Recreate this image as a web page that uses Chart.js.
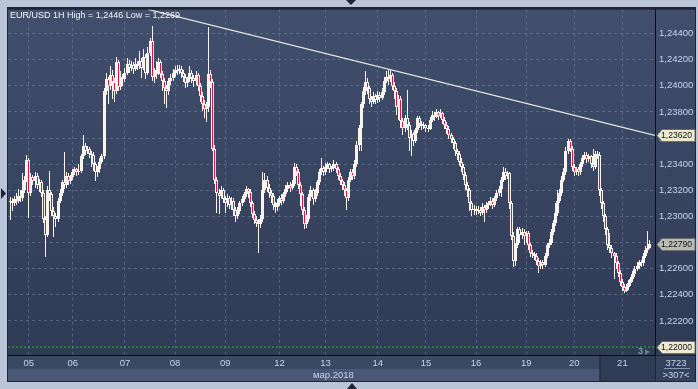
<!DOCTYPE html>
<html>
<head>
<meta charset="utf-8">
<style>
  html, body { margin: 0; padding: 0; background: #bac6d7; }
  body { width: 698px; height: 389px; overflow: hidden; }
  canvas { display: block; }
</style>
<script src="https://cdn.jsdelivr.net/npm/chart.js@4.4.1/dist/chart.umd.min.js"></script>
</head>
<body>
<canvas id="chart" width="698" height="389"></canvas>
<script>
// EUR/USD 1H, 05-21 mar 2018. prices in pips above 1.2200
const dayIdx = [9, 30, 55, 79, 103, 129, 151, 176, 199, 223, 247, 270, 293];
const dayLabels = ['05', '06', '07', '08', '09', '12', '13', '14', '15', '16', '19', '20', '21'];
const priceLevels = [1.222, 1.224, 1.226, 1.228, 1.230, 1.232, 1.234, 1.236, 1.238, 1.240, 1.242, 1.244];

const firstOpen = 111;
const closes = [
  112,110,113,112,116,114,120,128,143,118, 130,127,131,124,126,118,98,86,120,117,
  104,100,98,112,118,126,124,131,127,130, 134,136,134,135,146,154,150,152,148,147,
  140,134,136,142,146,196,205,200,208,203, 196,218,199,207,205,210,217,214,216,213,
  217,215,219,214,222,210,225,234,207,209, 212,218,209,204,198,196,204,206,210,212,
  211,213,210,207,202,205,210,206,204,208, 200,192,186,182,184,209,203,152,128,118,
  116,120,113,110,114,109,112,105,100,104, 110,113,117,121,119,110,102,97,95,94,
  98,120,128,122,118,116,109,107,110,114, 112,117,121,124,122,125,138,134,124,117,
  105,94,98,115,120,113,118,126,134,137, 134,138,140,136,137,140,136,131,127,124,
  120,114,128,134,131,140,155,168,186,196, 203,198,190,188,192,189,193,191,195,204,
  207,205,208,200,196,184,190,173,168,175, 170,160,163,158,166,175,171,169,170,168,
  167,174,178,176,180,177,179,174,170,167, 162,159,156,150,148,142,138,132,124,120,
  110,105,106,104,105,103,107,105,109,110, 112,109,114,118,121,128,134,131,133,110,
  85,66,78,90,86,88,85,87,78,72, 71,70,66,62,65,63,70,78,80,88,
  95,103,112,118,128,134,150,158,152,138, 134,136,134,140,145,147,144,146,140,138,
  148,147,120,110,100,90,78,76,72,70, 64,57,50,46,43,46,49,52,56,60,
  62,65,64,70,74,76,79
];
const highs = [
  115,114,116,118,121,120,133,131,147,145, 133,132,134,133,129,128,120,100,123,135,
  119,107,103,114,121,128,149,134,133,132, 136,138,137,140,148,162,156,154,153,150,
  149,142,139,145,148,198,210,207,215,212, 206,222,220,211,209,214,221,220,219,218,
  221,219,227,221,228,224,230,237,246,214, 219,221,220,211,206,201,206,209,213,215,
  216,216,215,212,209,207,215,212,208,211, 210,202,195,189,188,245,212,205,155,130,
  121,123,122,116,117,116,115,114,107,107, 112,116,119,123,122,121,112,104,100,98,
  101,134,133,131,125,120,118,111,113,116, 117,119,124,126,126,128,141,140,136,126,
  119,107,101,117,123,122,121,128,136,145, 139,141,142,141,139,143,142,138,133,129,
  126,122,130,136,136,143,158,170,188,199, 211,206,200,192,195,194,196,195,198,207,
  211,212,212,210,203,198,193,192,175,178, 197,172,166,165,168,177,177,173,172,171,
  170,176,181,180,182,181,182,180,176,172, 169,164,161,158,152,150,145,140,134,126,
  122,112,109,108,108,107,110,109,111,112, 115,114,116,120,123,130,138,137,135,134,
  112,88,80,92,92,91,90,89,89,80, 74,73,72,68,67,67,72,80,83,90,
  97,110,120,121,131,137,153,159,159,154, 140,138,138,142,147,149,149,148,147,152,
  150,150,149,122,112,102,92,87,78,73, 72,66,59,52,48,48,51,54,58,62,
  65,67,67,72,77,89,82
];
const lows = [
  97,104,108,109,110,111,112,118,126,99, 116,124,122,121,119,115,95,69,84,112,
  100,84,92,96,110,116,121,122,124,125, 128,132,131,132,133,144,147,148,145,138,
  135,127,130,133,140,144,193,186,197,190, 188,194,196,197,200,203,208,210,211,209,
  211,212,213,206,212,205,208,223,204,202, 205,208,206,196,186,183,193,201,204,207,
  208,209,206,203,198,199,203,202,199,201, 196,188,181,175,172,180,198,150,125,103,
  102,113,110,103,107,106,105,100,96,98, 102,108,111,115,114,107,99,94,92,72,
  91,96,118,119,114,110,105,103,104,108, 109,110,115,119,119,120,123,131,121,108,
  101,90,91,96,112,109,111,116,124,132, 131,132,136,133,134,135,133,128,124,120,
  116,105,112,126,128,129,138,150,150,183, 193,194,186,184,186,186,187,188,189,193,
  202,201,203,197,190,178,174,168,162,165, 166,150,146,154,156,164,168,166,167,165,
  165,166,172,173,175,174,175,171,167,163, 159,156,152,146,143,139,134,128,120,115,
  104,100,101,101,102,100,101,96,103,106, 108,106,107,112,116,115,126,128,129,106,
  82,61,62,76,80,83,78,80,74,69, 68,67,63,57,60,60,61,68,76,78,
  86,93,100,110,116,126,132,148,149,135, 131,132,131,132,138,143,141,142,137,135,
  136,144,116,106,96,86,74,72,68,52, 60,54,47,43,41,42,44,47,50,54,
  58,60,61,62,68,72,75
];

// trend line (candle index, price) and support level
const trendIdx = [66, 308.6];
const trendPrice = [1.24585, 1.2362];
const levelPrice = 1.22;
const levelCount = '3';
const shadeFrom = 282;

const FONT = '"Liberation Sans", Arial, sans-serif';
const WHITE = '#fbf4ee';
const RED = '#e2123f';
const TXT = '#c6d3ea';

const toPrice = v => 1.22 + v / 10000;
const opens = closes.map((c, i) => i ? closes[i - 1] : firstOpen);
const wickData = highs.map((h, i) => ({ x: i, y: [toPrice(lows[i]), toPrice(h)] }));
const bodyData = closes.map((c, i) => ({
  x: i, y: [toPrice(Math.min(opens[i], c)), toPrice(Math.max(opens[i], c))]
}));
const bodyColors = closes.map((c, i) => c < opens[i] ? RED : WHITE);
const lastPrice = toPrice(closes[closes.length - 1]);

const fmt = v => v.toFixed(5).replace('.', ',');

// frame, panels and strips behind the chart
const framePlugin = {
  id: 'frame',
  beforeDraw(chart) {
    const { ctx, chartArea: a } = chart;
    const x = chart.scales.x;
    ctx.save();
    ctx.fillStyle = '#bac6d7';
    ctx.fillRect(0, 0, 698, 389);
    ctx.fillStyle = '#1d2434';
    ctx.fillRect(7, 7, 689, 375);
    const g = ctx.createLinearGradient(0, a.top, 0, a.bottom);
    g.addColorStop(0, '#414f6c');
    g.addColorStop(1, '#2f3a55');
    ctx.fillStyle = g;
    ctx.fillRect(a.left, a.top, 695 - a.left, a.bottom - a.top);
    const sx = x.getPixelForValue(shadeFrom);
    ctx.fillStyle = '#3b4863';
    ctx.fillRect(a.left, a.bottom + 1, sx - a.left, 13);
    ctx.fillStyle = '#4b5875';
    ctx.fillRect(a.left, a.bottom + 14, sx - a.left, 12);
    ctx.fillStyle = '#303c56';
    ctx.fillRect(sx + 1, a.bottom + 1, a.right - sx - 1, 25);
    ctx.fillStyle = '#34415c';
    ctx.fillRect(a.right + 1, a.bottom + 1, 695 - a.right - 1, 25);
    // little arrows in the frame
    ctx.fillStyle = '#1d2434';
    ctx.beginPath(); ctx.moveTo(346, 0); ctx.lineTo(356, 0); ctx.lineTo(351, 5); ctx.fill();
    ctx.beginPath(); ctx.moveTo(347, 389); ctx.lineTo(357, 389); ctx.lineTo(352, 383); ctx.fill();
    ctx.beginPath(); ctx.moveTo(1, 188); ctx.lineTo(1, 199); ctx.lineTo(6, 193.5); ctx.fill();
    ctx.restore();
  }
};

// keep candles on whole pixels
const snapPlugin = {
  id: 'snap',
  afterDatasetsUpdate(chart) {
    [0, 1].forEach(d => {
      chart.getDatasetMeta(d).data.forEach(el => {
        el.x = Math.floor(el.x) + 0.5;
        el.y = Math.round(el.y);
        el.base = Math.round(el.base);
        if (Math.abs(el.base - el.y) < 1) el.base = el.y + 1;
      });
    });
  }
};

function tag(ctx, left, right, y, text, fill) {
  ctx.beginPath();
  ctx.moveTo(left, y);
  ctx.lineTo(left + 5, y - 6);
  ctx.lineTo(right, y - 6);
  ctx.lineTo(right, y + 6);
  ctx.lineTo(left + 5, y + 6);
  ctx.closePath();
  ctx.fillStyle = fill;
  ctx.fill();
  ctx.strokeStyle = '#6f6f68';
  ctx.lineWidth = 1;
  ctx.stroke();
  ctx.fillStyle = '#111';
  ctx.textAlign = 'left';
  ctx.textBaseline = 'middle';
  ctx.fillText(text, left + 4, y + 0.5);
}

// texts and price tags on top
const labelPlugin = {
  id: 'labels',
  afterDraw(chart) {
    const { ctx, chartArea: a } = chart;
    const y = chart.scales.y;
    ctx.save();
    ctx.font = '9px ' + FONT;
    ctx.fillStyle = '#f3f5f9';
    ctx.textBaseline = 'alphabetic';
    ctx.fillText('EUR/USD 1H High = 1,2446 Low = 1,2269', 10, 18);

    ctx.font = '9.5px ' + FONT;
    ctx.fillStyle = TXT;
    ctx.fillText('мар.2018', 313, 378);
    ctx.textAlign = 'center';
    ctx.fillText('3723', 676, 366);
    ctx.fillText('>307<', 676, 378);
    ctx.fillStyle = '#8996b0';
    ctx.fillRect(664, 368, 26, 1);

    ctx.font = '9px ' + FONT;
    ctx.fillStyle = '#9fb6d8';
    ctx.textAlign = 'left';
    ctx.fillText(levelCount, 638, 354);
    ctx.fillStyle = '#6b7890';
    ctx.beginPath(); ctx.moveTo(645, 349); ctx.lineTo(650, 352); ctx.lineTo(645, 355); ctx.fill();

    ctx.font = '8.6px ' + FONT;
    const l = a.right + 2, r = 695;
    tag(ctx, l, r, Math.round(y.getPixelForValue(trendPrice[1])) + 0.5, fmt(trendPrice[1]), '#eeead0');
    tag(ctx, l, r, Math.round(y.getPixelForValue(lastPrice)) + 0.5, fmt(lastPrice), '#b9bbb5');
    tag(ctx, l, r, Math.round(y.getPixelForValue(levelPrice)) + 0.5, fmt(levelPrice), '#eeead0');
    ctx.restore();
  }
};

const gridColor = 'rgba(128,143,172,0.45)';

new Chart(document.getElementById('chart'), {
  type: 'bar',
  data: {
    datasets: [
      { label: 'wick', data: wickData, backgroundColor: WHITE, borderWidth: 0,
        barThickness: 1, grouped: false, inflateAmount: 0, order: 3 },
      { label: 'body', data: bodyData, backgroundColor: bodyColors, borderColor: WHITE,
        borderWidth: 1, borderSkipped: false, barThickness: 3, grouped: false,
        inflateAmount: 0, order: 2 },
      { type: 'line', label: 'trend', data: trendIdx.map((x, i) => ({ x: x, y: trendPrice[i] })),
        borderColor: '#e4e4e4', borderWidth: 1.3, pointRadius: 0, order: 1 },
      { type: 'line', label: 'level', data: [{ x: -1, y: levelPrice }, { x: 310, y: levelPrice }],
        borderColor: '#26c426', borderWidth: 1, borderDash: [2, 2], pointRadius: 0, order: 4 }
    ]
  },
  options: {
    responsive: false,
    animation: false,
    devicePixelRatio: 1,
    layout: { padding: { left: 8, top: 8, right: 0, bottom: 0 } },
    plugins: { legend: { display: false }, tooltip: { enabled: false } },
    scales: {
      x: {
        type: 'linear', min: -0.96, max: 308.6, offset: false,
        grid: { color: gridColor, offset: false, drawTicks: false },
        border: { color: '#0a0d14', width: 1, dash: [3, 3] },
        afterBuildTicks: s => { s.ticks = dayIdx.map(v => ({ value: v })); },
        afterFit: s => { s.height = 34; },
        ticks: {
          autoSkip: false, maxRotation: 0, padding: 3, color: TXT,
          font: { family: FONT, size: 9.5 },
          callback: (v, i) => dayLabels[i]
        }
      },
      y: {
        type: 'linear', position: 'right', min: 1.21939, max: 1.24583,
        grid: { color: gridColor, drawTicks: false },
        border: { color: '#0a0d14', width: 1, dash: [3, 3] },
        afterBuildTicks: s => { s.ticks = priceLevels.map(v => ({ value: v })); },
        afterFit: s => { s.width = 43; },
        ticks: {
          padding: 4, color: TXT, font: { family: FONT, size: 9.5 },
          callback: v => fmt(v)
        }
      }
    }
  },
  plugins: [framePlugin, snapPlugin, labelPlugin]
});
</script>
</body>
</html>
